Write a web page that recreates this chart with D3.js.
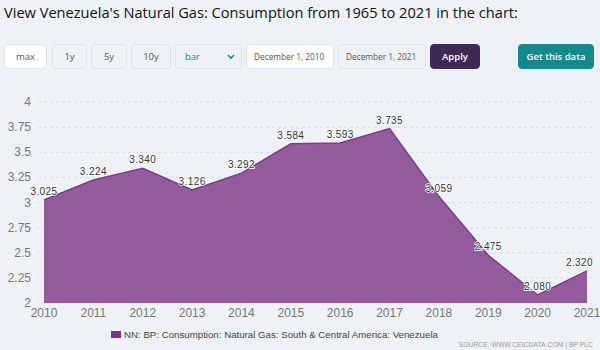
<!DOCTYPE html>
<html lang="en">
<head>
  <meta charset="UTF-8">
  <title>Venezuela Natural Gas Consumption</title>
  <script src="https://d3js.org/d3.v7.min.js"></script>
  <style>
    body { margin: 0; background: #eef2f6; font-family: "Open Sans", "Noto Sans", sans-serif; }
    #page { position: relative; width: 600px; height: 350px; overflow: hidden; }
    .title { position: absolute; left: 4px; top: 2px; font-size: 14.6px; color: #111; white-space: nowrap; }
    .btn { position: absolute; top: 44px; height: 25px; box-sizing: border-box; border: 1px solid #dde3ea;
           border-radius: 4px; background: #eef2f6; color: #555; font-size: 9.5px; line-height: 23px;
           text-align: center; white-space: nowrap; font-family: "Open Sans", sans-serif; }
    .btn.white { background: #fff; }
    .btn.left { text-align: left; padding-left: 9px; }
    .btn.date { text-align: left; padding-left: 7px; font-size: 8.3px; }
    .btn.apply { background: #3f2a56; border-color: #3f2a56; color: #fff; font-weight: 600; }
    .btn.get { background: #14898a; border-color: #14898a; color: #fff; font-weight: 600; }
    svg { position: absolute; left: 0; top: 0; }
  </style>
</head>
<body>
<div id="page">
  <div class="title">View Venezuela's Natural Gas: Consumption from 1965 to 2021 in the chart:</div>
</div>
<script>
  // chart data
  const years = [2010, 2011, 2012, 2013, 2014, 2015, 2016, 2017, 2018, 2019, 2020, 2021];
  const values = [3.025, 3.224, 3.340, 3.126, 3.292, 3.584, 3.593, 3.735, 3.059, 2.475, 2.080, 2.320];
  const yTicks = [2, 2.25, 2.5, 2.75, 3, 3.25, 3.5, 3.75, 4];
  const seriesName = "NN: BP: Consumption: Natural Gas: South & Central America: Venezuela";
  const source = "SOURCE: WWW.CEICDATA.COM | BP PLC";

  // toolbar buttons
  const buttons = [
    { text: "max", x: 4, w: 43, cls: "white" },
    { text: "1y", x: 52, w: 35, cls: "" },
    { text: "5y", x: 91, w: 36, cls: "" },
    { text: "10y", x: 131, w: 40, cls: "" },
    { text: "bar", x: 175, w: 67, cls: "left sel" },
    { text: "December 1, 2010", x: 246, w: 88, cls: "white date" },
    { text: "December 1, 2021", x: 338, w: 88, cls: "date" },
    { text: "Apply", x: 430, w: 50, cls: "apply" },
    { text: "Get this data", x: 518, w: 76, cls: "get" }
  ];

  const page = d3.select("#page");
  page.selectAll("div.btn")
    .data(buttons)
    .enter().append("div")
    .attr("class", d => "btn " + d.cls)
    .style("left", d => d.x + "px")
    .style("width", d => d.w + "px")
    .text(d => d.text);

  page.select(".sel").style("color", "#1b8a8a");
  const selBtn = buttons.find(b => b.text === "bar");

  const width = 600, height = 350;
  const svg = page.append("svg").attr("width", width).attr("height", height);

  // chevron for the select
  svg.append("path")
    .attr("d", `M${selBtn.x + selBtn.w - 14},55 l3,3 l3,-3`)
    .attr("fill", "none").attr("stroke", "#1b8a8a").attr("stroke-width", 1.6);

  const x = d3.scaleLinear().domain([2010, 2021]).range([44, 587]);
  const y = d3.scaleLinear().domain([2, 4]).range([303, 102]);

  // gridlines
  svg.append("g")
    .selectAll("line")
    .data(yTicks)
    .enter().append("line")
    .attr("x1", 38).attr("x2", 592)
    .attr("y1", d => y(d)).attr("y2", d => y(d))
    .attr("stroke", "#d6dbe1")
    .attr("stroke-dasharray", "3,3");

  // y labels
  svg.append("g")
    .selectAll("text")
    .data(yTicks)
    .enter().append("text")
    .attr("x", 31)
    .attr("y", d => y(d) + 4)
    .attr("text-anchor", "end")
    .attr("font-family", "Liberation Sans, Arial, sans-serif")
    .attr("font-size", 12)
    .attr("fill", "#777")
    .text(d => d3.format("")(d));

  // x labels
  svg.append("g")
    .selectAll("text")
    .data(years)
    .enter().append("text")
    .attr("x", d => x(d))
    .attr("y", 317)
    .attr("text-anchor", "middle")
    .attr("font-family", "Liberation Sans, Arial, sans-serif")
    .attr("font-size", 12)
    .attr("fill", "#777")
    .text(d => d);

  const pts = years.map((yr, i) => ({ year: yr, value: values[i] }));

  // area
  const area = d3.area()
    .x(d => x(d.year))
    .y0(y(2))
    .y1(d => y(d.value));

  svg.append("path")
    .datum(pts)
    .attr("d", area)
    .attr("fill", "#955c9d");

  const line = d3.line()
    .x(d => x(d.year))
    .y(d => y(d.value));

  svg.append("path")
    .datum(pts)
    .attr("d", line)
    .attr("fill", "none")
    .attr("stroke", "#7d3a8a")
    .attr("stroke-width", 1.5);

  // data labels
  const labels = svg.append("g")
    .selectAll("text")
    .data(pts)
    .enter().append("text")
    .attr("x", d => x(d.year))
    .attr("y", d => y(d.value) - 5)
    .attr("text-anchor", "middle")
    .attr("font-family", "Liberation Sans, Arial, sans-serif")
    .attr("font-size", 10)
    .attr("letter-spacing", 0.4)
    .attr("fill", "#333")
    .attr("stroke", "#fff")
    .attr("stroke-width", 1.5)
    .attr("paint-order", "stroke")
    .text(d => d.value.toFixed(3));

  // keep last label inside the chart
  labels.each(function () {
    const b = this.getBBox();
    if (b.x + b.width > 593) {
      d3.select(this).attr("x", +d3.select(this).attr("x") - (b.x + b.width - 593));
    }
  });

  // legend
  svg.append("rect")
    .attr("x", 111).attr("y", 331)
    .attr("width", 10).attr("height", 7)
    .attr("fill", "#7b2f8d");

  svg.append("text")
    .attr("x", 124).attr("y", 338)
    .attr("font-family", "Liberation Sans, Arial, sans-serif")
    .attr("font-size", 9.7)
    .attr("fill", "#444")
    .text(seriesName);

  svg.append("text")
    .attr("x", 593).attr("y", 347)
    .attr("text-anchor", "end")
    .attr("font-family", "Liberation Sans, Arial, sans-serif")
    .attr("font-size", 6.8)
    .attr("fill", "#999")
    .text(source);
</script>
</body>
</html>
